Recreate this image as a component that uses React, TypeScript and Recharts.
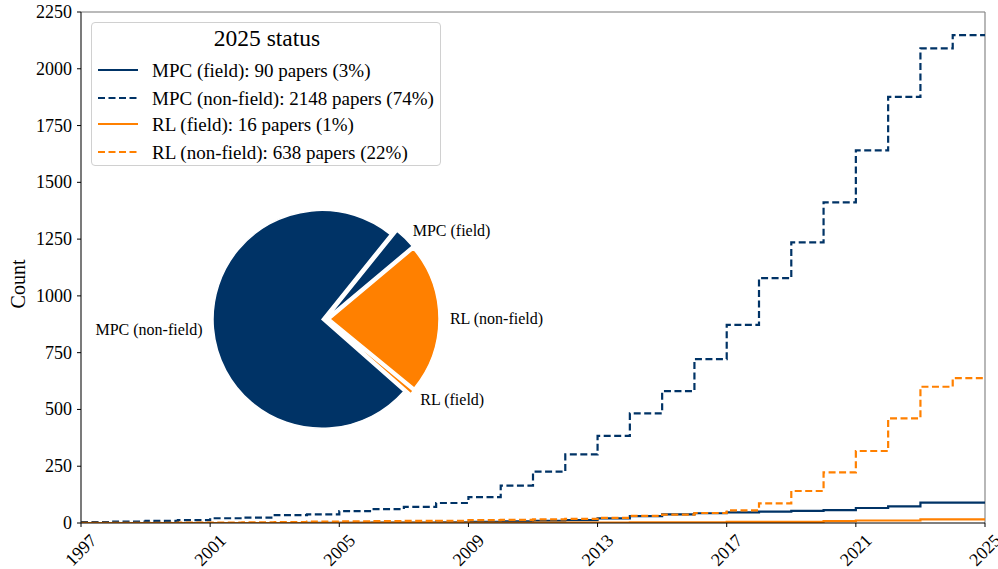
import React from 'react';
import { LineChart, Line, XAxis, YAxis, ReferenceLine, PieChart, Pie, Cell } from 'recharts';

// ---- data ----
const years = [1997, 1998, 1999, 2000, 2001, 2002, 2003, 2004, 2005, 2006, 2007, 2008, 2009, 2010, 2011, 2012, 2013, 2014, 2015, 2016, 2017, 2018, 2019, 2020, 2021, 2022, 2023, 2024, 2025];
const mpcField = [0, 0, 0, 0, 0, 0, 0, 1, 1, 2, 2, 3, 5, 7, 10, 13, 20, 30, 38, 43, 47, 50, 53, 57, 66, 73, 90, 90, 90];
const mpcNonField = [4, 6, 9, 13, 21, 24, 35, 38, 52, 61, 71, 88, 114, 165, 226, 302, 384, 483, 581, 722, 872, 1078, 1236, 1412, 1641, 1876, 2090, 2148, 2148];
const rlField = [0, 0, 0, 0, 0, 0, 0, 0, 1, 1, 1, 1, 1, 1, 2, 2, 2, 3, 3, 3, 5, 5, 5, 8, 11, 11, 16, 16, 16];
const rlNonField = [1, 1, 1, 2, 2, 3, 4, 6, 7, 8, 9, 10, 13, 14, 16, 18, 23, 31, 37, 44, 56, 86, 141, 223, 317, 461, 600, 638, 638];
const xTicks = [1997, 2001, 2005, 2009, 2013, 2017, 2021, 2025];
const yTicks = [0, 250, 500, 750, 1000, 1250, 1500, 1750, 2000, 2250];
const seriesNames = ['MPC (field)', 'MPC (non-field)', 'RL (field)', 'RL (non-field)'];
const legendTitle = '2025 status';
const yLabel = 'Count';

const NAVY = '#003366';
const ORANGE = '#ff8000';
const FONT = '"Liberation Serif", "Times New Roman", serif';

const seriesKeys = ['mpcField', 'mpcNonField', 'rlField', 'rlNonField'];
const seriesArrays = [mpcField, mpcNonField, rlField, rlNonField];
const seriesColors = [NAVY, NAVY, ORANGE, ORANGE];
const seriesDash = [undefined, '7 3.5', undefined, '7 3.5'];

const tableData = years.map((y, i) => ({
  year: y,
  mpcField: mpcField[i],
  mpcNonField: mpcNonField[i],
  rlField: rlField[i],
  rlNonField: rlNonField[i],
}));

const lastValues = seriesArrays.map((a) => a[a.length - 1]);
const total = lastValues.reduce((s, v) => s + v, 0);
const pieData = seriesNames.map((n, i) => ({ name: n, value: lastValues[i] }));

// pie geometry
const PIE_CX = 326;
const PIE_CY = 319;
const PIE_R = 109;
const EXPLODE = 4;
const START = 40;
const RAD = Math.PI / 180;

const mids: number[] = [];
{
  let cum = 0;
  lastValues.forEach((v) => {
    const a0 = START + (cum / total) * 360;
    cum += v;
    const a1 = START + (cum / total) * 360;
    mids.push((a0 + a1) / 2);
  });
}

const XTick = (props: any) => {
  const { x, y, payload } = props;
  return (
    <g transform={`translate(${x},${y + 23})`}>
      <text
        x={0}
        y={0}
        textAnchor="middle"
        dominantBaseline="central"
        transform="rotate(-45)"
        fontSize={18}
        fontFamily={FONT}
        fill="#000"
      >
        {payload.value}
      </text>
    </g>
  );
};

const YTick = (props: any) => {
  const { x, y, payload } = props;
  return (
    <text x={x} y={y} textAnchor="end" dominantBaseline="central" fontSize={18} fontFamily={FONT} fill="#000">
      {payload.value}
    </text>
  );
};

const LegendBox = () => {
  const rowY = [47, 75, 101, 129];
  return (
    <div
      style={{
        position: 'absolute',
        left: 91,
        top: 22,
        width: 350,
        height: 144,
        border: '1px solid #d0d0d0',
        borderRadius: 4,
        background: 'rgba(255,255,255,0.85)',
        boxSizing: 'border-box',
        fontFamily: FONT,
        color: '#000',
      }}
    >
      <div
        style={{
          position: 'absolute',
          left: 0,
          width: '100%',
          top: 16,
          transform: 'translateY(-50%)',
          textAlign: 'center',
          fontSize: 23.5,
          lineHeight: 1,
          paddingLeft: 1,
        }}
      >
        {legendTitle}
      </div>
      {seriesNames.map((n, i) => {
        const pct = Math.round((lastValues[i] / total) * 100);
        return (
          <div key={n} style={{ position: 'absolute', left: 0, top: rowY[i], width: '100%' }}>
            <svg
              width={42}
              height={6}
              style={{ position: 'absolute', left: 5, top: -3 }}
            >
              <line
                x1={1}
                y1={3}
                x2={41}
                y2={3}
                stroke={seriesColors[i]}
                strokeWidth={2.2}
                strokeDasharray={seriesDash[i]}
              />
            </svg>
            <div
              style={{
                position: 'absolute',
                left: 60,
                top: 0,
                transform: 'translateY(-50%)',
                fontSize: 19,
                lineHeight: 1,
                whiteSpace: 'nowrap',
              }}
            >
              {`${n}: ${lastValues[i]} papers (${pct}%)`}
            </div>
          </div>
        );
      })}
    </div>
  );
};

const makeLabel = (idx: number) => (props: any) => {
  if (props.index !== idx) return null;
  const m = mids[idx];
  const dist = EXPLODE + PIE_R * 1.1;
  const x = PIE_CX + dist * Math.cos(m * RAD);
  const y = PIE_CY - dist * Math.sin(m * RAD);
  return (
    <text
      x={x}
      y={y}
      textAnchor={Math.cos(m * RAD) >= 0 ? 'start' : 'end'}
      dominantBaseline="central"
      fontSize={16}
      fontFamily={FONT}
      fill="#000"
    >
      {seriesNames[idx]}
    </text>
  );
};

export default function App() {
  return (
    <div
      style={{
        position: 'absolute',
        left: 0,
        top: 0,
        width: 998,
        height: 569,
        background: '#fff',
        overflow: 'hidden',
        fontFamily: FONT,
      }}
    >
      <div style={{ position: 'absolute', left: 0, top: 0 }}>
        <LineChart width={998} height={569} data={tableData} margin={{ top: 12, right: 13, left: 11, bottom: 0 }}>
          <XAxis
            dataKey="year"
            type="number"
            domain={[1997, 2025]}
            ticks={xTicks}
            height={46}
            tickSize={4}
            tickMargin={0}
            tick={<XTick />}
            stroke="#000"
            axisLine={{ stroke: '#000', strokeWidth: 1.2 }}
            tickLine={{ stroke: '#000' }}
            interval={0}
            allowDataOverflow
          />
          <YAxis
            type="number"
            domain={[0, 2250]}
            ticks={yTicks}
            width={70}
            tickSize={4}
            tickMargin={5}
            tick={<YTick />}
            axisLine={{ stroke: '#222', strokeWidth: 1.2 }}
            tickLine={{ stroke: '#000' }}
            interval={0}
            allowDataOverflow
            label={{
              content: () => (
                <text
                  x={18}
                  y={284}
                  transform="rotate(-90 18 284)"
                  textAnchor="middle"
                  dominantBaseline="central"
                  fontSize={20}
                  fontFamily={FONT}
                  fill="#000"
                >
                  {yLabel}
                </text>
              ),
            }}
          />
          <ReferenceLine y={2250} stroke="#777" strokeWidth={1.2} ifOverflow="visible" />
          <ReferenceLine x={2025} stroke="#888" strokeWidth={1.2} ifOverflow="visible" />
          {seriesKeys.map((k, i) => (
            <Line
              key={k}
              dataKey={k}
              type="stepAfter"
              stroke={seriesColors[i]}
              strokeWidth={2.2}
              strokeDasharray={seriesDash[i]}
              dot={false}
              activeDot={false}
              isAnimationActive={false}
            />
          ))}
        </LineChart>
      </div>
      <LegendBox />
      <div style={{ position: 'absolute', left: 0, top: 0, pointerEvents: 'none' }}>
        <PieChart width={998} height={569} margin={{ top: 0, right: 0, bottom: 0, left: 0 }}>
          {pieData.map((_, idx) => (
            <Pie
              key={idx}
              data={pieData}
              dataKey="value"
              nameKey="name"
              cx={PIE_CX + EXPLODE * Math.cos(mids[idx] * RAD)}
              cy={PIE_CY - EXPLODE * Math.sin(mids[idx] * RAD)}
              outerRadius={PIE_R}
              innerRadius={0}
              startAngle={START}
              endAngle={START + 360}
              isAnimationActive={false}
              labelLine={false}
              label={makeLabel(idx)}
              legendType="none"
            >
              {pieData.map((__, j) => (
                <Cell
                  key={j}
                  fill={j === idx ? seriesColors[j] : 'none'}
                  stroke={j === idx ? '#fff' : 'none'}
                  strokeWidth={j === idx ? 1.5 : 0}
                />
              ))}
            </Pie>
          ))}
        </PieChart>
      </div>
    </div>
  );
}
